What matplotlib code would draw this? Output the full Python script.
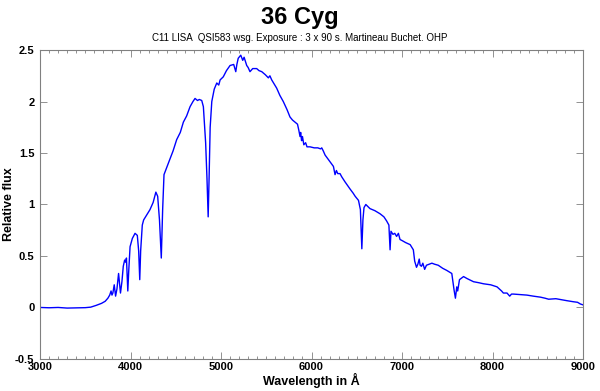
import matplotlib
matplotlib.use("Agg")
import matplotlib.pyplot as plt
from matplotlib.ticker import MultipleLocator

plt.rcParams['font.family'] = ['Liberation Sans', 'DejaVu Sans']

title = "36 Cyg"
subtitle = "C11 LISA  QSI583 wsg. Exposure : 3 x 90 s. Martineau Buchet. OHP"
xlabel = "Wavelength in Å"
ylabel = "Relative flux"

wavelength = [
    3000, 3100, 3200, 3300, 3400, 3500, 3560, 3620, 3680, 3720, 3750, 3770, 3785, 3795,
    3805, 3820, 3835, 3850, 3868, 3889, 3905, 3920, 3935, 3945, 3955, 3970, 3980, 3995,
    4020, 4050, 4075, 4090, 4102, 4112, 4130, 4145, 4180, 4215, 4250, 4280, 4300, 4320,
    4340, 4355, 4370, 4400, 4435, 4470, 4510, 4550, 4584, 4620, 4658, 4690, 4713, 4740,
    4760, 4787, 4805, 4830, 4845, 4858, 4868, 4880, 4898, 4925, 4953, 4975, 4990, 5025,
    5060, 5100, 5140, 5163, 5175, 5190, 5218, 5240, 5255, 5284, 5300, 5320, 5350, 5394,
    5420, 5450, 5490, 5523, 5540, 5560, 5615, 5650, 5688, 5730, 5762, 5790, 5818, 5845,
    5860, 5873, 5880, 5890, 5900, 5915, 5935, 5950, 5984, 6030, 6070, 6100, 6113, 6130,
    6150, 6200, 6242, 6260, 6275, 6290, 6315, 6333, 6370, 6426, 6460, 6482, 6519, 6540,
    6556, 6568, 6580, 6600, 6646, 6700, 6757, 6800, 6830, 6855, 6868, 6878, 6900, 6920,
    6940, 6960, 6978, 7000, 7040, 7090, 7125, 7140, 7160, 7175, 7190, 7200, 7215, 7230,
    7250, 7270, 7300, 7330, 7360, 7400, 7450, 7494, 7550, 7575, 7590, 7605, 7615, 7635,
    7680, 7720, 7790, 7850, 7900, 7980, 8050, 8100, 8120, 8160, 8190, 8210, 8230, 8300,
    8380, 8450, 8530, 8580, 8620, 8700, 8760, 8820, 8890, 8940, 8970, 9000,
]
flux = [
    0.00, -0.003, 0.000, -0.006, -0.004, -0.002, 0.003, 0.02, 0.04, 0.06, 0.09, 0.12, 0.16, 0.12,
    0.14, 0.22, 0.11, 0.18, 0.33, 0.14, 0.25, 0.40, 0.46, 0.44, 0.48, 0.16, 0.35, 0.59,
    0.67, 0.72, 0.70, 0.55, 0.27, 0.55, 0.80, 0.85, 0.90, 0.95, 1.02, 1.12, 1.08, 0.85,
    0.48, 0.95, 1.29, 1.36, 1.44, 1.52, 1.63, 1.70, 1.80, 1.86, 1.95, 2.00, 2.03, 2.01,
    2.02, 2.01, 1.95, 1.60, 1.25, 0.88, 1.25, 1.75, 2.00, 2.12, 2.18, 2.16, 2.21, 2.24,
    2.30, 2.35, 2.36, 2.29, 2.36, 2.42, 2.45, 2.40, 2.43, 2.35, 2.33, 2.29, 2.32, 2.32,
    2.30, 2.29, 2.26, 2.23, 2.25, 2.21, 2.13, 2.06, 2.00, 1.92, 1.85, 1.82, 1.80, 1.78,
    1.72, 1.66, 1.70, 1.62, 1.66, 1.58, 1.60, 1.56, 1.56, 1.55, 1.55, 1.54, 1.55, 1.52,
    1.48, 1.42, 1.37, 1.29, 1.33, 1.30, 1.30, 1.27, 1.22, 1.15, 1.11, 1.08, 1.04, 0.95,
    0.57, 0.85, 0.97, 1.00, 0.96, 0.94, 0.91, 0.88, 0.84, 0.80, 0.56, 0.74, 0.71, 0.72,
    0.69, 0.72, 0.66, 0.65, 0.63, 0.61, 0.56, 0.45, 0.39, 0.42, 0.47, 0.41, 0.40, 0.43,
    0.37, 0.41, 0.42, 0.43, 0.42, 0.41, 0.38, 0.36, 0.33, 0.17, 0.09, 0.20, 0.16, 0.27,
    0.30, 0.28, 0.25, 0.24, 0.23, 0.22, 0.20, 0.16, 0.14, 0.14, 0.11, 0.13, 0.13, 0.125,
    0.12, 0.11, 0.10, 0.09, 0.08, 0.085, 0.075, 0.066, 0.056, 0.05, 0.034, 0.025,
]

fig = plt.figure(figsize=(6.0, 3.91), dpi=100)
ax = fig.add_axes([0.0667, 0.082, 0.905, 0.790])
ax.plot(wavelength, flux, color='#0000ff', linewidth=1.0)

ax.set_xlim(3000, 9000)
ax.set_ylim(-0.5, 2.5)
ax.xaxis.set_major_locator(MultipleLocator(1000))
ax.xaxis.set_minor_locator(MultipleLocator(100))
ax.set_yticks([-0.5, 0, 0.5, 1, 1.5, 2, 2.5])
ax.set_yticklabels(['-0.5', '0', '0.5', '1', '1.5', '2', '2.5'])

ax.tick_params(axis='both', which='major', direction='in', length=5, width=0.6,
               color='#808080', top=True, right=True, labelsize=8, pad=2)
ax.tick_params(axis='y', which='major', pad=4)
ax.tick_params(axis='x', which='minor', direction='in', length=2.5, width=0.6,
               color='#808080', top=True)
for lbl in ax.get_xticklabels() + ax.get_yticklabels():
    lbl.set_fontweight('bold')
for s in ax.spines.values():
    s.set_color('#808080')
    s.set_linewidth(0.8)

ax.set_xlabel(xlabel, fontsize=9, fontweight='bold', labelpad=1)
ax.set_ylabel(ylabel, fontsize=9, fontweight='bold')
ax.yaxis.set_label_coords(-0.046, 0.5)

fig.text(0.5, 0.955, title, ha='center', va='center', fontsize=17, fontweight='bold')
fig.text(0.5, 0.903, subtitle, ha='center', va='center', fontsize=7)

fig.savefig('out.png', dpi=100)
